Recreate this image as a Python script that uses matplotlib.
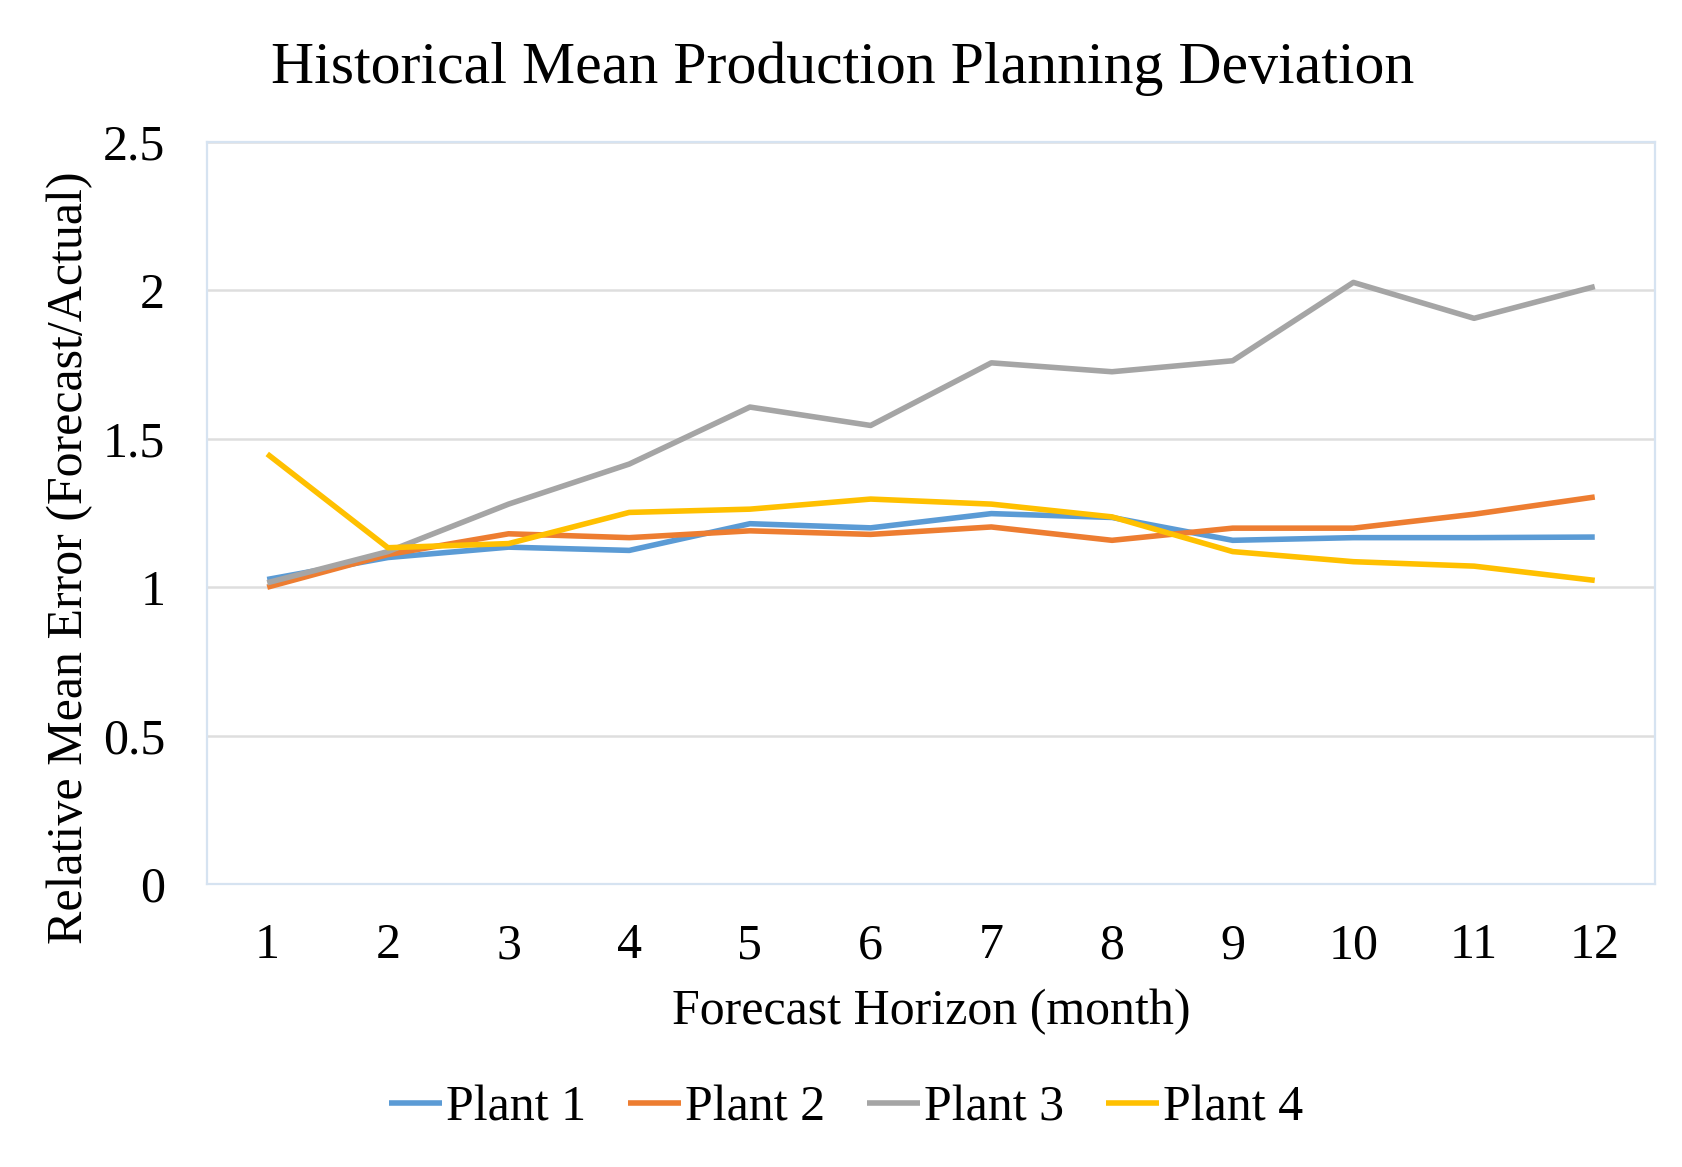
import matplotlib
matplotlib.use("Agg")
import matplotlib.pyplot as plt

months = [1, 2, 3, 4, 5, 6, 7, 8, 9, 10, 11, 12]
plant1 = [1.026, 1.10, 1.135, 1.124, 1.214, 1.20, 1.248, 1.235, 1.158, 1.167, 1.167, 1.169]
plant2 = [1.00, 1.11, 1.18, 1.167, 1.19, 1.178, 1.203, 1.158, 1.199, 1.199, 1.246, 1.304]
plant3 = [1.015, 1.12, 1.28, 1.415, 1.607, 1.545, 1.756, 1.726, 1.763, 2.027, 1.906, 2.013]
plant4 = [1.449, 1.133, 1.147, 1.252, 1.263, 1.297, 1.28, 1.237, 1.12, 1.086, 1.071, 1.023]
series_names = ["Plant 1", "Plant 2", "Plant 3", "Plant 4"]
yticks = [0, 0.5, 1, 1.5, 2, 2.5]
ytick_labels = ["0", "0.5", "1", "1.5", "2", "2.5"]

colors = ["#5B9BD5", "#ED7D31", "#A5A5A5", "#FFC000"]

plt.rcParams['font.family'] = ['Liberation Serif', 'DejaVu Serif']

fig = plt.figure(figsize=(16.82, 11.67), dpi=100)
ax = fig.add_axes([0.123, 0.2425, 0.861, 0.6358])

for vals, name, c in zip([plant1, plant2, plant3, plant4], series_names, colors):
    ax.plot(months, vals, color=c, lw=4, label=name, solid_capstyle='butt', zorder=3)

ax.set_xlim(0.5, 12.5)
ax.set_ylim(0, 2.5)
ax.set_yticks(yticks)
ax.set_yticklabels(ytick_labels)
ax.set_xticks(months)
ax.set_xticklabels([str(m) for m in months])
ax.yaxis.grid(True, color="#dedede", lw=1.8, zorder=0)
ax.set_axisbelow(True)
for s in ax.spines.values():
    s.set_color("#d6e3f1")
    s.set_linewidth(1.6)
ax.tick_params(axis='both', length=0, labelsize=36, colors='black')
ax.tick_params(axis='y', pad=30)
ax.tick_params(axis='x', pad=28)

fig.text(0.501, 0.941, "Historical Mean Production Planning Deviation",
         ha='center', va='center', fontsize=43)
ax.set_xlabel("Forecast Horizon (month)", fontsize=36, labelpad=14)
fig.text(0.0416, 0.522, "Relative Mean Error (Forecast/Actual)", fontsize=36,
         rotation=90, ha='center', va='center')

fig.legend(loc='center', bbox_to_anchor=(0.503, 0.05), ncol=4, frameon=False,
           fontsize=36, handlelength=1.05, handletextpad=0.08, columnspacing=0.85)

fig.savefig("out.png", dpi=100)
